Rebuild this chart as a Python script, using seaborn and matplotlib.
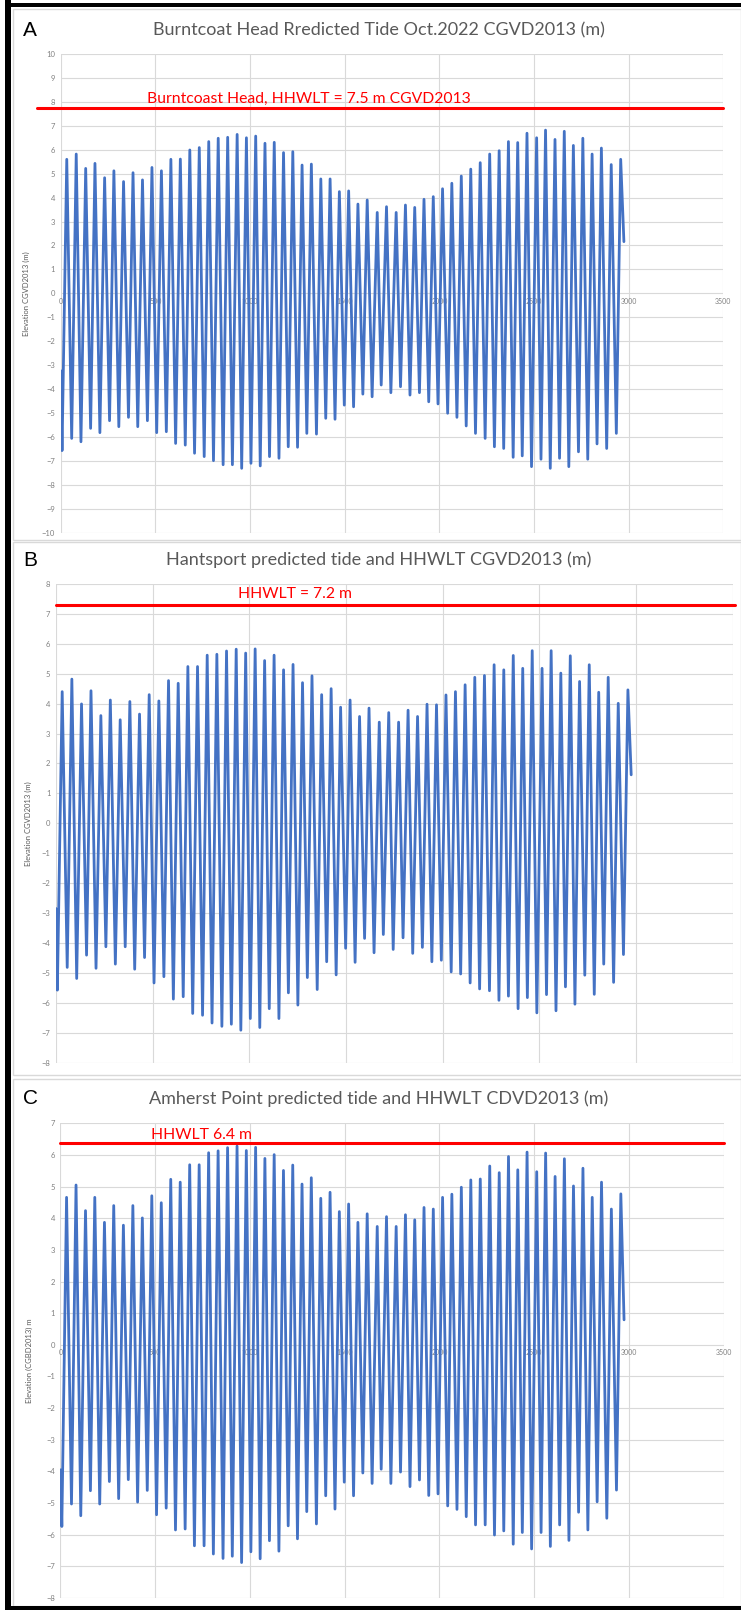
import numpy as np
import pandas as pd
import seaborn as sns
import matplotlib.pyplot as plt
from matplotlib.patches import Rectangle

# Oct 2022 predicted tides, 15-min steps; times of each low / high water
low_times = [7, 58, 107, 158, 207, 258, 307, 358, 407, 458, 507, 558, 607, 658, 707,
             758, 807, 858, 907, 956, 1005, 1054, 1103, 1153, 1202, 1251, 1300, 1351,
             1400, 1449, 1498, 1547, 1596, 1645, 1693, 1744, 1795, 1845, 1895, 1944,
             1993, 2044, 2093, 2142, 2191, 2242, 2291, 2340, 2390, 2438, 2487, 2537,
             2586, 2635, 2684, 2735, 2784, 2833, 2884, 2935]
high_times = [32, 82, 132, 181, 232, 281, 332, 382, 432, 482, 532, 582, 632, 682, 732,
              782, 832, 882, 932, 981, 1030, 1079, 1128, 1177, 1226, 1275, 1324, 1374,
              1423, 1472, 1521, 1570, 1619, 1672, 1721, 1772, 1821, 1870, 1919, 1968,
              2017, 2066, 2116, 2166, 2216, 2266, 2316, 2365, 2414, 2463, 2514, 2561,
              2611, 2660, 2708, 2758, 2807, 2856, 2908, 2958]
start_time, end_time = 0, 2975

# A - Burntcoat Head
burntcoat_start, burntcoat_end = -3.23, 2.16
burntcoat_low = [-6.57, -6.06, -6.20, -5.64, -5.82, -5.32, -5.57, -5.18, -5.57, -5.32,
                 -5.82, -5.78, -6.27, -6.34, -6.68, -6.82, -6.99, -7.16, -7.16, -7.31,
                 -7.10, -7.21, -6.82, -6.89, -6.41, -6.43, -5.85, -5.88, -5.22, -5.26,
                 -4.67, -4.74, -4.21, -4.32, -3.83, -4.15, -3.90, -4.25, -4.15, -4.53,
                 -4.62, -5.01, -5.18, -5.54, -5.85, -6.06, -6.41, -6.48, -6.85, -6.79,
                 -7.24, -6.93, -7.31, -6.89, -7.24, -6.62, -6.93, -6.29, -6.48, -5.85]
burntcoat_high = [5.60, 5.82, 5.22, 5.43, 4.83, 5.12, 4.67, 5.04, 4.74, 5.26,
                  5.12, 5.60, 5.61, 5.99, 6.09, 6.34, 6.48, 6.52, 6.64, 6.50,
                  6.57, 6.27, 6.31, 5.88, 5.92, 5.36, 5.40, 4.78, 4.78, 4.25,
                  4.28, 3.73, 3.90, 3.38, 3.62, 3.38, 3.69, 3.59, 3.93, 4.04,
                  4.37, 4.60, 4.90, 5.19, 5.46, 5.82, 5.96, 6.34, 6.30, 6.69,
                  6.50, 6.82, 6.43, 6.77, 6.18, 6.48, 5.82, 6.07, 5.38, 5.60]

# B - Hantsport
hantsport_start, hantsport_end = -2.85, 1.62
hantsport_low = [-5.58, -4.82, -5.19, -4.41, -4.85, -4.13, -4.71, -4.13, -4.88, -4.49,
                 -5.34, -5.13, -5.88, -5.80, -6.36, -6.42, -6.68, -6.79, -6.72, -6.92,
                 -6.53, -6.83, -6.20, -6.53, -5.67, -6.08, -5.16, -5.56, -4.63, -5.07,
                 -4.18, -4.65, -3.85, -4.33, -3.72, -4.22, -3.83, -4.35, -4.15, -4.63,
                 -4.58, -4.97, -5.04, -5.34, -5.54, -5.60, -5.92, -5.78, -6.20, -5.83,
                 -6.34, -5.73, -6.27, -5.47, -6.05, -5.08, -5.72, -4.71, -5.32, -4.39]
hantsport_high = [4.40, 4.82, 3.99, 4.43, 3.60, 4.12, 3.46, 4.07, 3.65, 4.30,
                  4.09, 4.77, 4.68, 5.24, 5.24, 5.62, 5.65, 5.76, 5.82, 5.69,
                  5.83, 5.44, 5.62, 5.13, 5.31, 4.70, 4.93, 4.30, 4.50, 3.88,
                  4.12, 3.57, 3.85, 3.38, 3.70, 3.38, 3.78, 3.57, 3.98, 3.96,
                  4.29, 4.40, 4.63, 4.88, 4.94, 5.30, 5.13, 5.61, 5.18, 5.77,
                  5.18, 5.77, 5.02, 5.60, 4.74, 5.30, 4.38, 4.88, 4.01, 4.46]

# C - Amherst Point
amherst_start, amherst_end = -3.95, 0.79
amherst_low = [-5.74, -5.03, -5.40, -4.61, -5.03, -4.32, -4.86, -4.26, -4.97, -4.60,
               -5.37, -5.16, -5.85, -5.82, -6.35, -6.35, -6.61, -6.75, -6.68, -6.88,
               -6.54, -6.76, -6.19, -6.52, -5.72, -6.13, -5.27, -5.66, -4.77, -5.19,
               -4.34, -4.77, -4.05, -4.38, -3.93, -4.38, -4.02, -4.48, -4.27, -4.76,
               -4.71, -5.09, -5.20, -5.43, -5.69, -5.69, -6.01, -5.88, -6.30, -5.93,
               -6.45, -5.93, -6.37, -5.69, -6.18, -5.29, -5.85, -4.96, -5.48, -4.59]
amherst_high = [4.66, 5.05, 4.24, 4.66, 3.87, 4.40, 3.78, 4.40, 4.01, 4.71,
                4.49, 5.23, 5.14, 5.69, 5.69, 6.07, 6.13, 6.23, 6.28, 6.14,
                6.24, 5.89, 6.01, 5.51, 5.68, 5.08, 5.28, 4.63, 4.82, 4.21,
                4.45, 3.87, 4.14, 3.74, 4.05, 3.74, 4.11, 3.95, 4.34, 4.29,
                4.66, 4.76, 4.98, 5.21, 5.24, 5.65, 5.44, 5.95, 5.53, 6.09,
                5.47, 6.06, 5.32, 5.88, 5.02, 5.58, 4.66, 5.14, 4.29, 4.77]

# HHWLT lines as drawn on each chart
hhwlt_levels = [7.75, 7.30, 6.37]
hhwlt_labels = ["Burntcoast Head, HHWLT = 7.5 m CGVD2013", "HHWLT = 7.2 m", "HHWLT 6.4 m"]

titles = ["Burntcoat Head Rredicted Tide Oct.2022 CGVD2013 (m)",
          "Hantsport predicted tide and HHWLT CGVD2013 (m)",
          "Amherst Point predicted tide and HHWLT CDVD2013 (m)"]
ylabels = ["Elevation CGVD2013 (m)", "Elevation CGVD2013 (m)", "Elevation (CGBD2013) m"]
letters = ["A", "B", "C"]
x_ticks = [0, 500, 1000, 1500, 2000, 2500, 3000, 3500]


def tide_frame(start, lows, highs, end):
    t = np.column_stack([low_times, high_times]).ravel()
    v = np.column_stack([lows, highs]).ravel()
    return pd.DataFrame({"step": np.r_[start_time, t, end_time],
                         "elev": np.r_[start, v, end]})


frames = [tide_frame(burntcoat_start, burntcoat_low, burntcoat_high, burntcoat_end),
          tide_frame(hantsport_start, hantsport_low, hantsport_high, hantsport_end),
          tide_frame(amherst_start, amherst_low, amherst_high, amherst_end)]

sns.set_style("white")
plt.rcParams["font.family"] = ["Lato", "DejaVu Sans"]

W, H = 741, 1610
fig = plt.figure(figsize=(W / 100, H / 100), dpi=100)


def fx(px):
    return px / W


def fy(py):
    return 1 - py / H


# chart frames and outer black border
for top, bot in [(9, 540), (542, 1075), (1079, 1606)]:
    fig.patches.append(Rectangle((fx(13), fy(bot)), fx(W - 13), (bot - top) / H,
                                 transform=fig.transFigure, fill=False,
                                 edgecolor="#D9D9D9", lw=1))
fig.patches.append(Rectangle((fx(5), 0), fx(6), 1, transform=fig.transFigure,
                             color="black", lw=0))
fig.patches.append(Rectangle((fx(5), fy(7)), 1, 4 / H, transform=fig.transFigure,
                             color="black", lw=0))
fig.patches.append(Rectangle((fx(5), 0), 1, 4 / H, transform=fig.transFigure,
                             color="black", lw=0))

# axes boxes in pixels: left, top, right, bottom
boxes = [(60.7, 54, 723.3, 532.7), (56, 584, 732.7, 1062.5), (60.5, 1123.3, 723.5, 1598)]
ylims = [(-10, 10), (-8, 8), (-8, 7)]
label_x = [-0.046, -0.036, -0.041]
red_extent = [(-126, 3500), (0, 3510), (0, 3500)]
red_text_pos = [(456, 8.12), (941, 7.67), (478, 6.63)]
title_y = [30, 560, 1099]

for i in range(3):
    l, t, r, b = boxes[i]
    ax = fig.add_axes([fx(l), fy(b), (r - l) / W, (b - t) / H])
    sns.lineplot(data=frames[i], x="step", y="elev", ax=ax, color="#4472C4",
                 linewidth=2.0, estimator=None, sort=False)
    lo, hi = ylims[i]
    ax.set_xlim(0, 3500)
    ax.set_ylim(lo, hi)
    ax.set_xticks(x_ticks)
    ax.set_yticks(range(lo, hi + 1))
    ax.grid(True, color="#D9D9D9", lw=0.8)
    ax.set_axisbelow(True)
    for s in ax.spines.values():
        s.set_visible(False)
    ax.spines["bottom"].set_position(("data", 0))
    ax.tick_params(length=0, labelsize=5.5, labelcolor="#808080", pad=4)
    ax.tick_params(axis="x", pad=3, labelsize=5)
    if i == 1:
        ax.tick_params(labelbottom=False)
    ax.set_xlabel("")
    ax.set_ylabel(ylabels[i], fontsize=5.5, color="#595959")
    ax.yaxis.set_label_coords(label_x[i], 0.5)

    x0, x1 = red_extent[i]
    ax.plot([x0, x1], [hhwlt_levels[i]] * 2, color="#FF0000", lw=2.2, clip_on=False)
    tx, ty = red_text_pos[i]
    ax.text(tx, ty, hhwlt_labels[i], color="#FF0000", fontsize=11.3, va="center", ha="left")

    fig.text(fx(379), fy(title_y[i]), titles[i], ha="center", va="center",
             fontsize=13, color="#595959")
    fig.text(fx(23), fy(title_y[i]), letters[i], ha="left", va="center",
             fontsize=15, color="black", family=["Liberation Sans", "DejaVu Sans"])

fig.savefig("out.png", dpi=100)
